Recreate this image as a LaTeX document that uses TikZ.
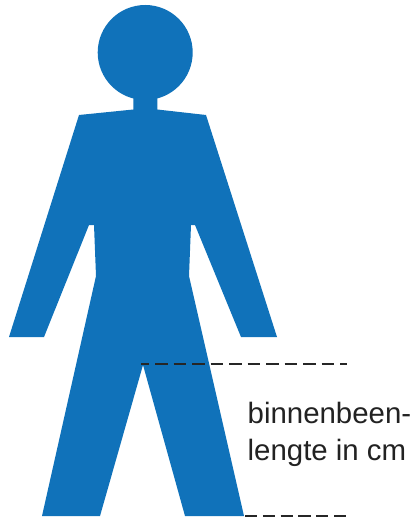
\documentclass[tikz,border=0pt]{standalone}
\usepackage{fontspec}
\setmainfont{Liberation Sans}
\definecolor{figblue}{HTML}{1072BA}
\definecolor{labelgrey}{HTML}{222222}
\tikzset{
  figure/.style={fill=figblue,draw=none},
  measure/.style={draw=black!85,line width=1.5pt},
  measuretop/.style={measure,dash pattern=on 12.5pt off 6pt,dash phase=4.5pt},
  measurebot/.style={measure,dash pattern=on 12.2pt off 5.6pt},
  lbl/.style={anchor=base west,inner sep=0pt,font=\fontsize{29.4}{36}\selectfont,text=labelgrey}
}
\begin{document}
\begin{tikzpicture}[x=1pt,y=-1pt]
\useasboundingbox (0,0) rectangle (416,521);
\fill[white] (0,0) rectangle (416,521);
\fill[figure] (145.2,52.5) circle (47.5);
\fill[figure] (133.3,95) -- (157.3,95) -- (157.3,109.5) -- (206,115) -- (277,337) -- (241,337)
  -- (195,225) -- (191,225) -- (189,276) -- (244,516) -- (185,516) -- (143,365)
  -- (100,516) -- (42,516) -- (96,276) -- (94,225) -- (89,225) -- (44,337) -- (9,337)
  -- (79,115) -- (133.3,109.5) -- cycle;
\coordinate (topa) at (141,363.8);
\coordinate (topb) at (347,363.8);
\coordinate (bota) at (245,516);
\coordinate (botb) at (346,516);
\draw[measuretop] (topa) -- (topb);
\draw[measurebot] (bota) -- (botb);
\node[lbl] (l1) at (247.5,423) {binnenbeen-};
\node[lbl] (l2) at (247.5,460) {lengte in cm};
\end{tikzpicture}
\end{document}
